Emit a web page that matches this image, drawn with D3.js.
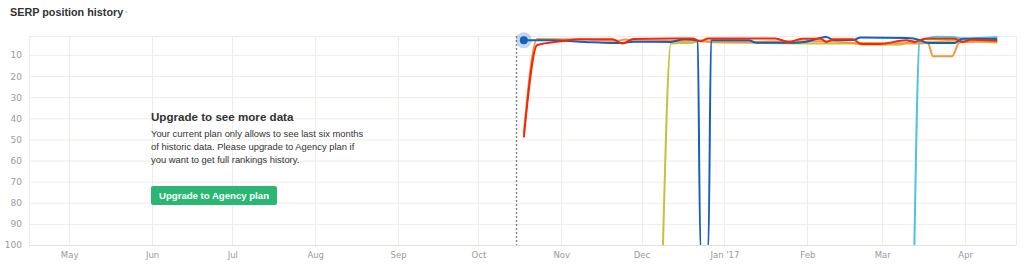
<html>
	<head>
		<title>SERP position history</title>
		<meta charset="utf-8">
		<script src="https://cdn.jsdelivr.net/npm/d3@7"></script>
		<style>
			body { margin: 0; background: #fff; }
		</style>
	</head>
	<body>
		<script>

			// model
			var MONTH_TICKS = ["2016-05-01", "2016-06-01", "2016-07-01", "2016-08-01", "2016-09-01", "2016-10-01",
				"2016-11-01", "2016-12-01", "2017-01-01", "2017-02-01", "2017-03-01", "2017-04-01"];
			var MONTH_LABELS = ["May", "Jun", "Jul", "Aug", "Sep", "Oct", "Nov", "Dec", "Jan '17", "Feb", "Mar", "Apr"];
			var RANK_TICKS = [10, 20, 30, 40, 50, 60, 70, 80, 90, 100];
			var DOMAIN_DATES = ["2016-04-16", "2017-04-20"];
			var CUTOFF_DATE = "2016-10-15";

			// 101 = dropped out of the top 100 (drawn below the axis, clipped)
			var blue_dates = ["2016-10-18", "2016-10-28", "2016-11-10", "2016-11-20", "2016-11-24", "2016-11-28", "2016-12-12",
				"2016-12-17", "2016-12-22", "2016-12-23", "2016-12-26", "2016-12-27", "2017-01-10", "2017-01-13", "2017-01-25",
				"2017-01-31", "2017-02-08", "2017-02-11", "2017-02-18", "2017-02-21", "2017-03-10", "2017-03-15", "2017-03-18",
				"2017-03-28", "2017-03-31", "2017-04-13"];
			var blue_ranks = [3, 3, 3.8, 4.3, 4.3, 3.7, 3.8, 2.5, 3.2, 101, 101, 3, 3, 4.2, 4.2, 3.8, 1.5, 2.9, 2.9, 1.7, 2.0, 2.9,
				4.3, 4.3, 2.3, 2.4];

			var red_dates = ["2016-10-18", "2016-10-23", "2016-11-01", "2016-11-08", "2016-11-20", "2016-11-24", "2016-11-28",
				"2016-12-20", "2016-12-23", "2016-12-26", "2017-01-20", "2017-01-25", "2017-01-30", "2017-02-06", "2017-02-08",
				"2017-02-11", "2017-02-18", "2017-02-21", "2017-02-28", "2017-03-10", "2017-03-13", "2017-03-17", "2017-03-28",
				"2017-03-31", "2017-04-03", "2017-04-13"];
			var red_ranks = [49, 5.3, 3.5, 2.5, 2.5, 4.5, 2.4, 2.2, 3.5, 2.2, 2.2, 3.8, 2.3, 2.3, 3.8, 2.5, 2.5, 4.8, 4.8, 3, 3.8,
				2.3, 2.3, 3.8, 2.8, 3.2];

			var orange_dates = ["2016-10-18", "2016-10-23", "2016-11-10", "2016-11-22", "2016-11-25", "2016-11-28", "2016-12-20",
				"2016-12-24", "2017-01-10", "2017-01-25", "2017-02-08", "2017-02-20", "2017-03-15", "2017-03-18", "2017-03-20",
				"2017-03-27", "2017-03-30", "2017-04-13"];
			var orange_ranks = [47, 2.4, 2.7, 3.3, 2.6, 3.5, 3.2, 3.6, 3.8, 3.5, 3.5, 4.3, 4.5, 4.3, 10.6, 10.6, 4, 3.5];

			var olive_dates = ["2016-12-09", "2016-12-12", "2016-12-20", "2016-12-23", "2016-12-27", "2017-01-10", "2017-02-01",
				"2017-02-18", "2017-02-22", "2017-03-08", "2017-03-12", "2017-03-16", "2017-03-28", "2017-04-13"];
			var olive_ranks = [101, 4.5, 4.2, 3, 4, 4.2, 4.5, 4.5, 5.2, 5, 3.5, 3.8, 3.3, 4.2];

			var cyan_dates = ["2017-03-13", "2017-03-15", "2017-03-22", "2017-03-28", "2017-03-31", "2017-04-13"];
			var cyan_ranks = [101, 3.5, 1.4, 1.6, 2.2, 1.5];

			// view
			var VIEW_W = 1024;
			var VIEW_H = 276;
			var PLOT_L = 29;
			var PLOT_R = 1016;
			var PLOT_T = 36;
			var PLOT_B = 245;
			var GRID_COLOR = "#efece6";
			var LABEL_COLOR = "#9a9a9a";
			var SERIES = [
				{ dates: olive_dates,  ranks: olive_ranks,  color: "#c4c23c" },
				{ dates: orange_dates, ranks: orange_ranks, color: "#f7953f" },
				{ dates: cyan_dates,   ranks: cyan_ranks,   color: "#4ec4dc" },
				{ dates: blue_dates,   ranks: blue_ranks,   color: "#1560bd" },
				{ dates: red_dates,    ranks: red_ranks,    color: "#f4260c" }
			];

			var parse = d3.timeParse("%Y-%m-%d");

			var x = d3.scaleTime()
				.domain(DOMAIN_DATES.map(parse))
				.range([PLOT_L, PLOT_R]);
			var y = d3.scaleLinear()
				.domain([1, 100])
				.range([PLOT_T, PLOT_B]);

			var svg = d3.select("body").append("svg")
				.attr("width", VIEW_W)
				.attr("height", VIEW_H);

			// title
			svg.append("text")
				.attr("x", 10)
				.attr("y", 16)
				.attr("font-family", "Liberation Sans, Arial, sans-serif")
				.attr("font-weight", "bold")
				.attr("font-size", 10.8)
				.attr("fill", "#333")
				.text("SERP position history");
			svg.append("circle")
				.attr("cx", 126).attr("cy", 12).attr("r", 1.1)
				.attr("fill", "#ccc");

			// grid
			var grid = svg.append("g");
			grid.selectAll("line.h")
				.data([1].concat(RANK_TICKS))
				.enter().append("line")
				.attr("x1", PLOT_L).attr("x2", PLOT_R)
				.attr("y1", function(d) { return y(d) + 0.5; })
				.attr("y2", function(d) { return y(d) + 0.5; })
				.attr("stroke", GRID_COLOR);
			grid.selectAll("line.v")
				.data(MONTH_TICKS.map(parse).concat(DOMAIN_DATES.map(parse)))
				.enter().append("line")
				.attr("x1", function(d) { return Math.round(x(d)) + 0.5; })
				.attr("x2", function(d) { return Math.round(x(d)) + 0.5; })
				.attr("y1", PLOT_T).attr("y2", PLOT_B)
				.attr("stroke", GRID_COLOR);

			// axes
			var y_axis = d3.axisLeft(y).tickValues(RANK_TICKS).tickSize(0).tickPadding(7);
			var gy = svg.append("g")
				.attr("transform", "translate(" + PLOT_L + ",0)")
				.call(y_axis);
			gy.select(".domain").remove();
			gy.selectAll("text")
				.attr("font-family", "DejaVu Sans, Verdana, sans-serif")
				.attr("font-size", 9)
				.attr("fill", LABEL_COLOR);

			var x_axis = d3.axisBottom(x)
				.tickValues(MONTH_TICKS.map(parse))
				.tickFormat(function(d, i) { return MONTH_LABELS[i]; })
				.tickSize(0).tickPadding(7);
			var gx = svg.append("g")
				.attr("transform", "translate(0," + PLOT_B + ")")
				.call(x_axis);
			gx.select(".domain").attr("stroke", "#e4e0d8");
			gx.selectAll("text")
				.attr("font-family", "DejaVu Sans, Verdana, sans-serif")
				.attr("font-size", 8.5)
				.attr("fill", LABEL_COLOR);

			// six months cutoff
			svg.append("line")
				.attr("x1", Math.round(x(parse(CUTOFF_DATE))) + 0.5)
				.attr("x2", Math.round(x(parse(CUTOFF_DATE))) + 0.5)
				.attr("y1", PLOT_T).attr("y2", PLOT_B)
				.attr("stroke", "#888")
				.attr("stroke-width", 1.5)
				.attr("stroke-dasharray", "2,2");

			// series
			svg.append("clipPath").attr("id", "plot_clip")
				.append("rect")
				.attr("x", PLOT_L).attr("y", PLOT_T - 4)
				.attr("width", PLOT_R - PLOT_L).attr("height", PLOT_B - PLOT_T + 4);

			var line = d3.line()
				.x(function(d) { return x(d.date); })
				.y(function(d) { return y(d.rank); })
				.curve(d3.curveMonotoneX);

			SERIES.forEach(function(s) {
				var points = s.dates.map(function(d, i) { return { date: parse(d), rank: s.ranks[i] }; });
				svg.append("path")
					.datum(points)
					.attr("clip-path", "url(#plot_clip)")
					.attr("d", line)
					.attr("fill", "none")
					.attr("stroke", s.color)
					.attr("stroke-width", 2)
					.attr("stroke-linejoin", "round");
			});

			// hovered point
			var first_x = x(parse(blue_dates[0]));
			var first_y = y(blue_ranks[0]);
			svg.append("circle")
				.attr("cx", first_x).attr("cy", first_y).attr("r", 8)
				.attr("fill", "#1560bd").attr("opacity", 0.25);
			svg.append("circle")
				.attr("cx", first_x).attr("cy", first_y).attr("r", 4)
				.attr("fill", "#1560bd");

			// upgrade notice
			var notice = svg.append("g")
				.attr("font-family", "Liberation Sans, Arial, sans-serif")
				.attr("fill", "#333");
			notice.append("text")
				.attr("x", 151).attr("y", 121)
				.attr("font-size", 11.6)
				.attr("font-weight", "bold")
				.text("Upgrade to see more data");
			var body_lines = ["Your current plan only allows to see last six months",
				"of historic data. Please upgrade to Agency plan if",
				"you want to get full rankings history."];
			notice.selectAll("text.body")
				.data(body_lines)
				.enter().append("text")
				.attr("x", 151)
				.attr("y", function(d, i) { return 136.5 + i * 13; })
				.attr("font-size", 9.4)
				.text(function(d) { return d; });

			svg.append("rect")
				.attr("x", 151).attr("y", 186)
				.attr("width", 126).attr("height", 19)
				.attr("rx", 2)
				.attr("fill", "#2bb673");
			svg.append("text")
				.attr("x", 214).attr("y", 199)
				.attr("text-anchor", "middle")
				.attr("font-family", "Liberation Sans, Arial, sans-serif")
				.attr("font-weight", "bold")
				.attr("font-size", 9.6)
				.attr("fill", "#fff")
				.text("Upgrade to Agency plan");

		</script>
	</body>
</html>
